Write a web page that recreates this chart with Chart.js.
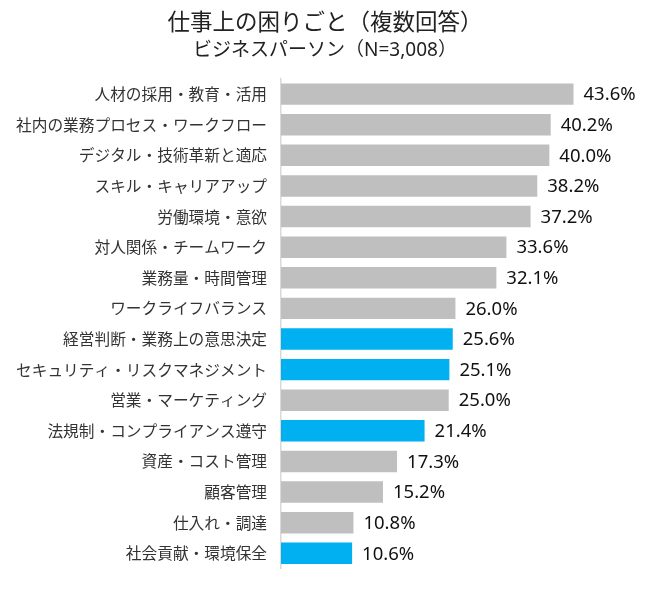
<!DOCTYPE html>
<html>
<head>
<meta charset="utf-8">
<script src="https://cdn.jsdelivr.net/npm/chart.js@4.4.1/dist/chart.umd.min.js"></script>
<style>
  html, body { margin: 0; padding: 0; background: #ffffff; }
  #wrap { width: 658px; height: 592px; position: relative; }
</style>
</head>
<body>
<div id="wrap"><canvas id="c"></canvas></div>
<script>
const categories = [
  "人材の採用・教育・活用",
  "社内の業務プロセス・ワークフロー",
  "デジタル・技術革新と適応",
  "スキル・キャリアアップ",
  "労働環境・意欲",
  "対人関係・チームワーク",
  "業務量・時間管理",
  "ワークライフバランス",
  "経営判断・業務上の意思決定",
  "セキュリティ・リスクマネジメント",
  "営業・マーケティング",
  "法規制・コンプライアンス遵守",
  "資産・コスト管理",
  "顧客管理",
  "仕入れ・調達",
  "社会貢献・環境保全"
];
const values = [43.6, 40.2, 40.0, 38.2, 37.2, 33.6, 32.1, 26.0, 25.6, 25.1, 25.0, 21.4, 17.3, 15.2, 10.8, 10.6];
const highlighted = [false, false, false, false, false, false, false, false, true, true, false, true, false, false, false, true];
const titleText = "仕事上の困りごと（複数回答）";
const subtitleText = "ビジネスパーソン（N=3,008）";

const FONT = '"Noto Sans CJK JP", "Noto Sans", sans-serif';
const LATIN_FONT = '"Noto Sans", "Noto Sans CJK JP", sans-serif';
const GRAY = "#bfbfbf";
const BLUE = "#00b0f0";

const valueLabels = {
  id: "valueLabels",
  afterDatasetsDraw(chart) {
    const ctx = chart.ctx;
    const meta = chart.getDatasetMeta(0);
    ctx.save();
    ctx.font = "18.5px " + LATIN_FONT;
    ctx.fillStyle = "#111111";
    ctx.textAlign = "left";
    ctx.textBaseline = "middle";
    meta.data.forEach((bar, i) => {
      ctx.fillText(values[i].toFixed(1) + "%", bar.x + 10, bar.y + 1);
    });
    ctx.restore();
  }
};

new Chart(document.getElementById("c"), {
  type: "bar",
  data: {
    labels: categories,
    datasets: [{
      data: values,
      backgroundColor: highlighted.map(h => h ? BLUE : GRAY),
      borderWidth: 0,
      barPercentage: 0.7,
      categoryPercentage: 1.0
    }]
  },
  options: {
    indexAxis: "y",
    responsive: true,
    maintainAspectRatio: false,
    animation: false,
    layout: { padding: { left: 0, right: 8, top: 0, bottom: 11 } },
    plugins: {
      legend: { display: false },
      tooltip: { enabled: false },
      title: {
        display: true,
        text: titleText,
        color: "#222222",
        font: { family: FONT, size: 22.5, weight: "normal" },
        padding: { top: 8, bottom: 2 }
      },
      subtitle: {
        display: true,
        text: subtitleText,
        color: "#222222",
        font: { family: LATIN_FONT, size: 19, weight: "normal" },
        padding: { top: 2, bottom: 17 }
      }
    },
    scales: {
      x: {
        display: false,
        min: 0,
        max: 55
      },
      y: {
        afterFit(scale) { scale.width = 281; },
        grid: { display: false, drawTicks: false },
        border: { display: true, color: "#d9d9d9", width: 1.5 },
        ticks: {
          padding: 14,
          color: "#333333",
          font: { family: FONT, size: 15.7 }
        }
      }
    }
  },
  plugins: [valueLabels]
});
</script>
</body>
</html>
